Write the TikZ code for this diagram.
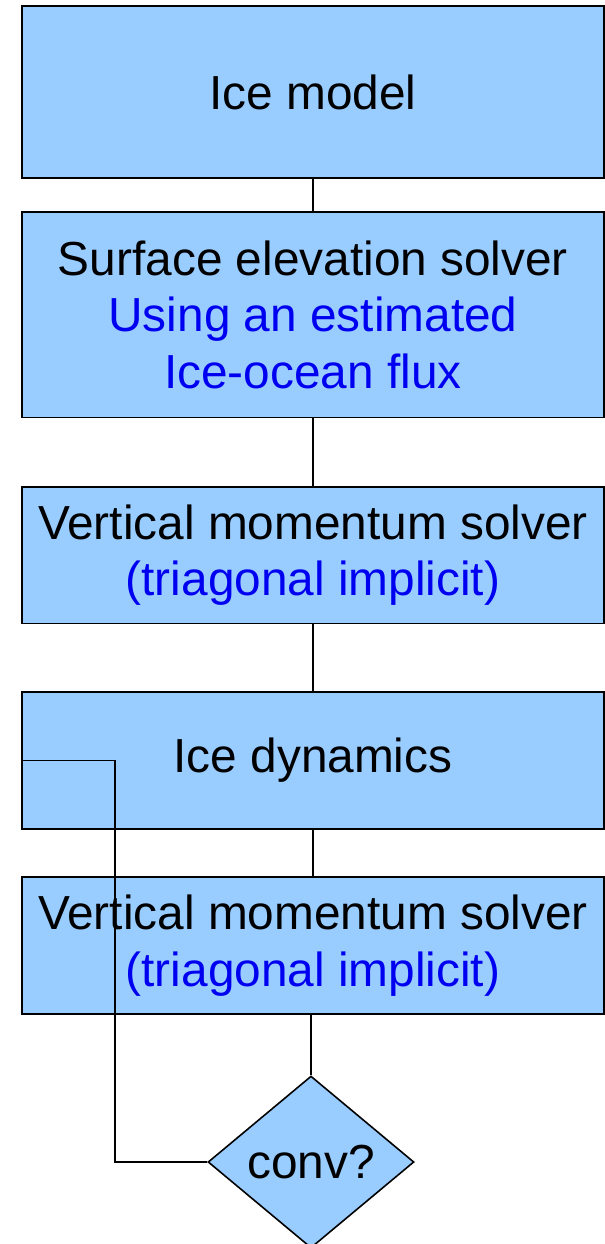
\documentclass[tikz,border=0pt]{standalone}
\usepackage{fontspec}
\setmainfont{Liberation Sans}
\usepackage{xcolor}
\usepackage{tikz}
\usetikzlibrary{positioning, shapes.geometric}

\definecolor{iceblue}{HTML}{99CCFF}
\definecolor{noteblue}{HTML}{0000F0}

\begin{document}
\begin{tikzpicture}[
  x=0.02cm, y=-0.02cm,
  stage/.style={draw, line width=0.9pt, fill=iceblue, minimum width=11.64cm, inner sep=0pt, align=center, font=\fontsize{27.2}{32.2}\selectfont},
  decision/.style={draw, diamond, line width=0.9pt, fill=iceblue, aspect=1.2, inner sep=0pt, minimum width=4.12cm, minimum height=3.44cm, font=\fontsize{27.2}{32.2}\selectfont},
  link/.style={line width=0.8pt, color=black},
]
\useasboundingbox (0,0) rectangle (605,1244);

% ================= boxes =================
\node[stage, minimum height=3.44cm] (ice) at (313,92) {Ice model};

\node[stage, minimum height=4.11cm] (surf) at (313,314.75) {Surface elevation solver\\ \textcolor{noteblue}{Using an estimated}\\ \textcolor{noteblue}{Ice-ocean flux}};

\node[stage, minimum height=2.73cm] (vert1) at (313,555.25) {Vertical momentum solver\\ \textcolor{noteblue}{(triagonal implicit)}};

\node[stage, minimum height=2.74cm] (dyn) at (313,760.5) {Ice dynamics};

\node[stage, minimum height=2.74cm] (vert2) at (313,945.5) {Vertical momentum solver\\ \textcolor{noteblue}{(triagonal implicit)}};

% convergence test
\node[decision] (conv) at (311,1162) {conv?};

% ================= connectors =================
\draw[link] (ice) -- (surf);
\draw[link] (surf) -- (vert1);
\draw[link] (vert1) -- (dyn);
\draw[link] (dyn) -- (vert2);
\draw[link] (vert2.south -| conv.north) -- (conv.north);

% back to ice dynamics
\coordinate (back) at (115,760.5);
\draw[link] (conv.west) -| (back) -- (dyn.west);

\end{tikzpicture}
\end{document}
